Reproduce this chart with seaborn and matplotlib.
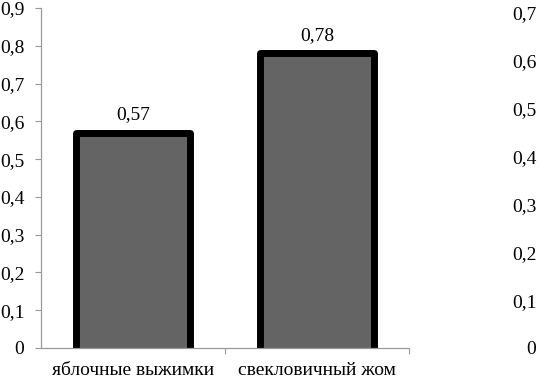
import matplotlib
matplotlib.use("Agg")
import matplotlib.pyplot as plt
import matplotlib.ticker as mticker
import seaborn as sns
import pandas as pd

# --- data ---
categories = ["яблочные выжимки", "свекловичный жом"]
values = [0.57, 0.78]
left_ticks = [0, 0.1, 0.2, 0.3, 0.4, 0.5, 0.6, 0.7, 0.8, 0.9]
right_ticks = [0, 0.1, 0.2, 0.3, 0.4, 0.5, 0.6, 0.7]

df = pd.DataFrame({"cat": categories, "val": values})

sns.set_theme(style="white")
plt.rcParams["font.family"] = ["Liberation Serif", "DejaVu Serif"]
plt.rcParams["font.size"] = 14

fig = plt.figure(figsize=(5.41, 3.80), dpi=100)
ax = fig.add_axes([41 / 541, 1 - 348 / 380, 368 / 541, 340 / 380])

sns.barplot(data=df, x="cat", y="val", ax=ax, width=0.615,
            color="#646464", saturation=1, linewidth=0)

# black outline on left/top/right only, rounded corners
for p in ax.patches:
    x0, x1 = p.get_x(), p.get_x() + p.get_width()
    h = p.get_height()
    ax.plot([x0, x0, x1, x1], [0, h, h, 0], color="black", lw=5,
            solid_joinstyle="round", solid_capstyle="butt", zorder=3)

def comma_fmt(v, pos):
    if abs(v) < 1e-9:
        return "0"
    return f"{v:.1f}".replace(".", ",")

ax.set_ylim(0, 0.9)
ax.set_xlim(-0.5, 1.5)
ax.set_yticks(left_ticks)
ax.yaxis.set_major_formatter(mticker.FuncFormatter(comma_fmt))
ax.set_xlabel("")
ax.set_ylabel("")
ax.xaxis.set_minor_locator(mticker.FixedLocator([0.5, 1.5]))
ax.tick_params(axis="x", which="major", length=0, pad=10, labelsize=14, colors="black")
ax.tick_params(axis="x", which="minor", length=4, width=0.8, color="#999999", direction="out", bottom=True)
ax.tick_params(axis="y", length=4, width=0.8, color="#999999", direction="out", left=True,
               labelsize=14, labelcolor="black", pad=8)
for s in ["top", "right"]:
    ax.spines[s].set_visible(False)
for s in ["left", "bottom"]:
    ax.spines[s].set_color("#999999")
    ax.spines[s].set_linewidth(0.9)
    ax.spines[s].set_zorder(4)

for i, v in enumerate(values):
    ax.text(i, v + 0.036, f"{v:.2f}".replace(".", ","), ha="center", va="baseline",
            fontsize=14, color="black")

# neighbouring chart, only its tick labels are visible at the right edge
ax2 = fig.add_axes([553 / 541, 1 - 348 / 380, 0.3, 335 / 380])
ax2.set_ylim(0, 0.7)
ax2.set_yticks(right_ticks)
ax2.yaxis.set_major_formatter(mticker.FuncFormatter(comma_fmt))
ax2.set_xticks([])
ax2.tick_params(axis="y", length=4, labelsize=14, labelcolor="black", pad=8)
for s in ax2.spines.values():
    s.set_visible(False)

fig.savefig("out.png", dpi=100)
